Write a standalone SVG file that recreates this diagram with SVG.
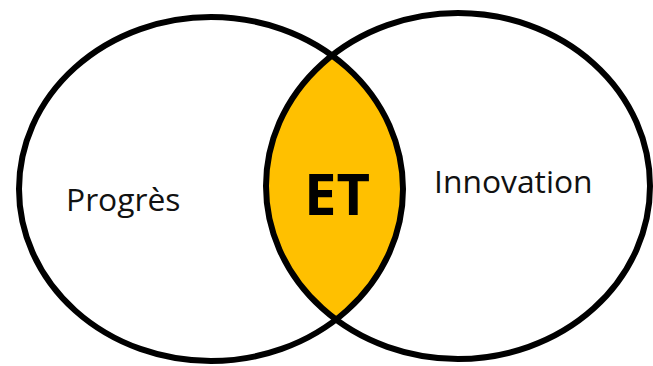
<svg xmlns="http://www.w3.org/2000/svg" width="653" height="366" viewBox="0 0 653 366">
  <style>
    .ring { fill: none; stroke: #000000; stroke-width: 6; }
    .label { font-family: "Open Sans", "Noto Sans", "DejaVu Sans", sans-serif; font-size: 31.8px; fill: #111111; }
    .core { font-family: "Open Sans", "Noto Sans", "DejaVu Sans", sans-serif; font-size: 58px; font-weight: bold; fill: #000000; }
  </style>
  <defs>
    <clipPath id="clipLeft">
      <ellipse cx="211" cy="189" rx="192" ry="172"/>
    </clipPath>
  </defs>
  <rect x="0" y="0" width="653" height="366" fill="#ffffff"/>
  <g id="intersection">
    <ellipse cx="458" cy="186" rx="192" ry="173" fill="#FFC000" clip-path="url(#clipLeft)"/>
  </g>
  <g id="progres">
    <ellipse class="ring" cx="211" cy="189" rx="192" ry="172"/>
    <text class="label" x="66" y="211">Progrès</text>
  </g>
  <g id="innovation">
    <ellipse class="ring" cx="458" cy="186" rx="192" ry="173"/>
    <text class="label" x="434" y="193">Innovation</text>
  </g>
  <g id="et">
    <text class="core" x="304" y="215">ET</text>
  </g>
  <g id="connectors"></g>
</svg>
